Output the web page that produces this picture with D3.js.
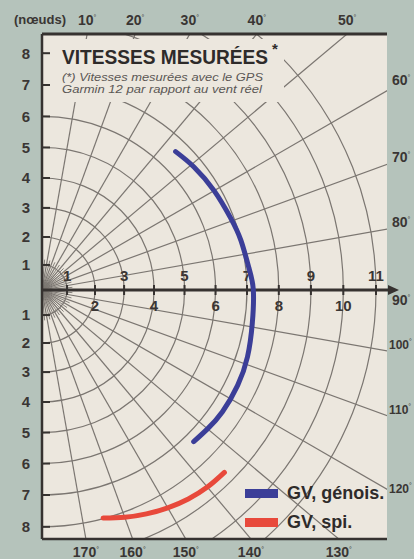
<!DOCTYPE html>
<html><head><meta charset="utf-8">
<script src="https://cdn.jsdelivr.net/npm/d3@7"></script>
<style>
html,body{margin:0;padding:0;background:#b5c3bb;}
svg{display:block;font-family:"Liberation Sans",Arial,sans-serif;}
</style></head>
<body>
<svg id="c" width="414" height="559"></svg>
<script>
// ---- data ----
const knotTicks = [1,2,3,4,5,6,7,8,9,10,11];
const leftTicks = [1,2,3,4,5,6,7,8];
const topAngles = [10,20,30,40,50];
const rightAngles = [60,70,80,90,100,110,120];
const bottomAngles = [130,140,150,160,170];
const gridAngles = [10,20,30,40,50,60,70,80,100,110,120,130,140,150,160,170];
const fineAngles = [5,15,25,35,45,55,65,75,85,95,105,115,125,135,145,155,165,175];
const genoisAngles = [44,51,60,69,76,84,90,99,108,116,124,130,135];
const genoisSpeeds = [6.6,6.7,6.8,6.9,7.0,7.1,7.2,7.25,7.35,7.4,7.4,7.35,7.3];
const spiAngles = [135,140,145,150,155,160,165];
const spiSpeeds = [8.66,8.64,8.57,8.46,8.32,8.16,7.98];
const seriesNames = ["GV, génois.","GV, spi."];
const seriesColors = ["#3b3e98","#e8493b"];

// ---- layout ----
const svg = d3.select("#c");
const L = 42, T = 34, R = 387, B = 539;
const cx = 42, cy = 290;
const r = d3.scalePow().exponent(1.08).domain([0,11]).range([0,334]);
const rad = d => d*Math.PI/180;
const gridCol = "#7b7671", ink = "#363230";

svg.append("rect").attr("x",L).attr("y",T).attr("width",R-L).attr("height",B-T).attr("fill","#ece7de");
svg.append("clipPath").attr("id","pc").append("rect").attr("x",L).attr("y",T).attr("width",R-L).attr("height",B-T);
const g = svg.append("g").attr("clip-path","url(#pc)");
const c = g.append("g").attr("transform",`translate(${cx},${cy})`);

// circles
const arc = d3.arc().startAngle(0).endAngle(Math.PI);
c.selectAll("path.circ").data(knotTicks).join("path").attr("class","circ")
  .attr("d", k => arc({innerRadius:r(k), outerRadius:r(k)}))
  .attr("fill","none").attr("stroke",gridCol).attr("stroke-width",1.2);
// radial lines
c.selectAll("line.rad").data(gridAngles).join("line").attr("class","rad")
  .attr("x1",0).attr("y1",0)
  .attr("x2",a=>800*Math.sin(rad(a))).attr("y2",a=>-800*Math.cos(rad(a)))
  .attr("stroke",gridCol).attr("stroke-width",1.2);
c.selectAll("line.fine").data(fineAngles).join("line").attr("class","fine")
  .attr("x1",0).attr("y1",0)
  .attr("x2",a=>r(1.2)*Math.sin(rad(a))).attr("y2",a=>-r(1.2)*Math.cos(rad(a)))
  .attr("stroke",gridCol).attr("stroke-width",0.9);

// title box
svg.append("rect").attr("x",44).attr("y",39).attr("width",240).attr("height",63).attr("fill","#ece7de");

// borders
svg.append("line").attr("x1",L).attr("x2",R).attr("y1",T).attr("y2",T).attr("stroke",ink).attr("stroke-width",3);
svg.append("line").attr("x1",L).attr("x2",R).attr("y1",B).attr("y2",B).attr("stroke",ink).attr("stroke-width",2.5);
svg.append("line").attr("x1",L).attr("x2",L).attr("y1",T).attr("y2",B).attr("stroke",ink).attr("stroke-width",2.5);

// left axis ticks & labels
const left = svg.append("g");
leftTicks.forEach(k=>{
  [-1,1].forEach(s=>{
    const y = cy + s*r(k);
    left.append("line").attr("x1",L).attr("x2",L+8).attr("y1",y).attr("y2",y).attr("stroke",ink).attr("stroke-width",2);
    left.append("text").attr("x",26).attr("y",y).attr("dy","0.36em").attr("text-anchor","middle")
      .attr("font-size",15).attr("font-weight","bold").attr("fill","#3a3634").text(k);
  });
});

// 90° axis with arrow
svg.append("line").attr("x1",L).attr("x2",390).attr("y1",cy).attr("y2",cy).attr("stroke",ink).attr("stroke-width",3);
svg.append("path").attr("d",`M388,${cy-5}L399,${cy}L388,${cy+5}Z`).attr("fill",ink);
knotTicks.forEach(k=>{
  const x = cx + r(k);
  svg.append("line").attr("x1",x).attr("x2",x).attr("y1",cy-5).attr("y2",cy+5).attr("stroke",ink).attr("stroke-width",2);
  svg.append("text").attr("x",x).attr("y", k%2 ? cy-9 : cy+21).attr("text-anchor","middle")
    .attr("font-size",15).attr("font-weight","bold").attr("fill","#3a3634").text(k);
});

// angle labels
function degLabel(sel,x,y,a,anchor,fs){
  const t = sel.append("text").attr("x",x).attr("y",y).attr("text-anchor",anchor)
    .attr("font-size",fs||14).attr("font-weight","bold").attr("fill","#3a3634");
  t.append("tspan").text(a);
  t.append("tspan").attr("font-size",7).attr("dy",-5).attr("font-weight","normal").text("°");
}
topAngles.forEach(a=>degLabel(svg, cx+(cy-T)*Math.tan(rad(a)), 25, a, "middle"));
bottomAngles.forEach(a=>degLabel(svg, cx+(B-cy)*Math.tan(rad(180-a)), 557, a, "middle"));
rightAngles.forEach(a=>{
  let y = a===90 ? cy+15 : cy - (R-cx)/Math.tan(rad(a)) - 2;
  if (a===60) y -= 4;
  if (a===120) y += 6;
  degLabel(svg, a>=100 ? 389 : 392, y, a, "start", a>=100 ? 12 : 14);
});
svg.append("text").attr("x",14).attr("y",24).attr("font-size",13).attr("font-weight","bold").attr("fill","#3a3634").text("(nœuds)");

// title
svg.append("text").attr("x",62).attr("y",64).attr("font-size",19.5).attr("font-weight","bold").attr("fill","#2e2b2a")
  .attr("textLength",206).attr("lengthAdjust","spacingAndGlyphs").text("VITESSES MESURÉES");
svg.append("text").attr("x",272).attr("y",54).attr("font-size",15).attr("font-weight","bold").attr("fill","#2e2b2a").text("*");
svg.append("text").attr("x",62).attr("y",81).attr("font-size",11.5).attr("font-style","italic").attr("fill","#5b5755")
  .attr("textLength",201).attr("lengthAdjust","spacingAndGlyphs").text("(*) Vitesses mesurées avec le GPS");
svg.append("text").attr("x",62).attr("y",93).attr("font-size",11.5).attr("font-style","italic").attr("fill","#5b5755")
  .attr("textLength",200).attr("lengthAdjust","spacingAndGlyphs").text("Garmin 12 par rapport au vent réel");

// series
const line = d3.lineRadial().angle(d=>rad(d[0])).radius(d=>r(d[1])).curve(d3.curveNatural);
const series = [d3.zip(genoisAngles,genoisSpeeds), d3.zip(spiAngles,spiSpeeds)];
const sg = svg.append("g").attr("transform",`translate(${cx},${cy})`);
series.forEach((s,i)=>{
  sg.append("path").attr("d",line(s)).attr("fill","none").attr("stroke",seriesColors[i])
    .attr("stroke-width",5).attr("stroke-linecap","round");
});

// legend
const legY = [489,518];
seriesNames.forEach((n,i)=>{
  svg.append("rect").attr("x",245).attr("y",legY[i]).attr("width",33).attr("height",9).attr("fill",seriesColors[i]);
  svg.append("text").attr("x",287).attr("y",legY[i]+10).attr("font-size",18).attr("font-weight","bold").attr("fill","#2e2b2a")
    .text(n);
});
</script>
</body></html>
